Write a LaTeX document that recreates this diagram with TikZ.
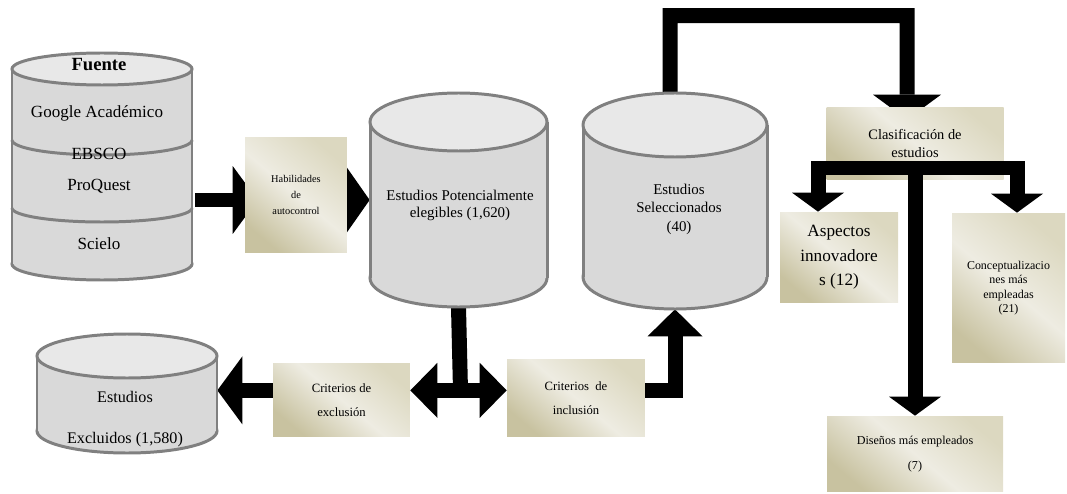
\documentclass[tikz,border=0pt]{standalone}
\usepackage{fontspec}
\setmainfont{Liberation Serif}
\usetikzlibrary{arrows.meta,backgrounds,fit,calc}

\definecolor{cylbody}{HTML}{D9D9D9}
\definecolor{cyltop}{HTML}{E8E8E8}
\definecolor{cylrim}{HTML}{808080}
\definecolor{paperdark}{HTML}{C8C2A0}
\definecolor{paperlight}{HTML}{EEECE2}
\definecolor{papermid}{HTML}{DCD8C0}

% name, x, top y, bottom y, x radius, y radius
\newcommand{\dbcyl}[6]{%
  \filldraw[cylline,fill=cylbody] (#2,#4) ellipse [x radius=#5,y radius=#6];
  \fill[cylbody] (#2-#5,#3) rectangle (#2+#5,#4);
  \draw[cylline] (#2-#5,#3) -- (#2-#5,#4) (#2+#5,#3) -- (#2+#5,#4);
  \filldraw[cylline,fill=cyltop] (#2,#3) ellipse [x radius=#5,y radius=#6];
  \node[fit={(#2-#5,#3-#6) (#2+#5,#4+#6)},inner sep=0pt] (#1) {};
}

\tikzset{
  bigtip/.tip={Triangle[length=0.54cm,width=1.54cm,line width=0pt]},
  midtip/.tip={Triangle[length=0.5cm,width=1.36cm,line width=0pt]},
  dbltip/.tip={Triangle[length=0.54cm,width=1.1cm,line width=0pt]},
  smalltip/.tip={Triangle[length=0.38cm,width=1.04cm,line width=0pt]}
}

\begin{document}
\begin{tikzpicture}[x=0.02cm,y=-0.02cm,
  cylline/.style={draw=cylrim,line width=1.7pt},
  paper/.style={top color=papermid,bottom color=paperdark,middle color=paperlight,
    shading angle=-40,inner sep=1pt,align=center},
  bar/.style={draw=black,line width=0.3cm}]
\useasboundingbox (0,0) rectangle (1067,493);

%FUENTE
\dbcyl{src}{102}{69}{264}{90}{16}
\draw[cylline] (192,140) arc[start angle=0,end angle=180,x radius=90,y radius=15];
\draw[cylline] (192,208) arc[start angle=0,end angle=180,x radius=90,y radius=14];
\node[font=\fontsize{10.6}{12}\selectfont\bfseries] (fuente) at (99,65) {Fuente};
\node[font=\fontsize{9.7}{11}\selectfont] (google) at (97,113) {Google Académico};
\node[font=\fontsize{9.7}{11}\selectfont] (ebsco) at (99,154) {EBSCO};
\node[font=\fontsize{9.7}{11}\selectfont] (proquest) at (99,186) {ProQuest};
\node[font=\fontsize{9.7}{11}\selectfont] (scielo) at (99,244) {Scielo};

%ESTUDIOS
\dbcyl{pot}{458.5}{122}{278}{88.5}{29}
\node[font=\fontsize{8.5}{9.6}\selectfont,align=center] (pottext) at (460,205)
  {Estudios Potencialmente\\elegibles (1,620)};
\dbcyl{sel}{675}{125}{277}{92}{32}
\node[font=\fontsize{8.5}{10.5}\selectfont,align=center] (seltext) at (679,209)
  {Estudios\\Seleccionados\\(40)};
\dbcyl{exc}{127}{356}{431}{90}{22}
\node[font=\fontsize{9.2}{23.5}\selectfont,align=center] (exctext) at (125,419)
  {Estudios\\Excluidos (1,580)};

%CAJAS
\node[paper,minimum width=2.04cm,minimum height=2.32cm,font=\fontsize{5.9}{9}\selectfont]
  (hab) at (296,195) {Habilidades\\de\\autocontrol};
\node[paper,minimum width=2.74cm,minimum height=1.48cm,font=\fontsize{7.2}{14}\selectfont]
  (exclu) at (341.5,400) {Criterios de\\exclusión};
\node[paper,minimum width=2.76cm,minimum height=1.56cm,font=\fontsize{7.2}{14}\selectfont]
  (inclu) at (576,398) {Criterios~ de\\inclusión};
\node[paper,minimum width=3.54cm,minimum height=1.46cm,font=\fontsize{8.2}{10.8}\selectfont]
  (clas) at (915,143.5) {Clasificación de\\estudios};
\node[paper,minimum width=2.36cm,minimum height=1.82cm,font=\fontsize{9.8}{13.9}\selectfont]
  (asp) at (839,257.5) {Aspectos\\innovadore\\s (12)};
\node[paper,minimum width=2.26cm,minimum height=3cm,font=\fontsize{6.8}{8.3}\selectfont]
  (conc) at (1008.5,288) {Conceptualizacio\\nes más\\empleadas\\(21)};
\node[paper,minimum width=3.52cm,minimum height=1.52cm,font=\fontsize{6.9}{14.7}\selectfont]
  (dis) at (915,454) {Diseños más empleados\\(7)};

%FLECHAS
\coordinate (fork) at ($(pot.south)+(2,83)$);
\begin{scope}[on background layer]
  \draw[bar,-{midtip}] ($(src.east |- pot.west)+(3,0)$) -- ($(hab.west |- pot.west)+(13,0)$);
  \draw[bar,-{bigtip}] (hab.east |- pot.west) -- (pot.west);
  \draw[bar] (pot.south) -- (fork);
  \draw[bar,{dbltip}-{dbltip}] (exclu.east |- fork) -- (inclu.west |- fork);
  \draw[bar,-{midtip}] (exclu.west |- fork) -- (exc.east |- fork);
  \draw[bar,-{dbltip}] (inclu.east |- fork) -| (sel.south);
  \draw[bar,-{midtip}] ([xshift=-0.1cm]sel.north) |- ++(237,-77) -- ($(clas.north)+(-8,13)$);
\end{scope}

\coordinate (tl) at (818,168);
\coordinate (tr) at (1017,168);
\draw[bar,{smalltip}-{smalltip}] (tl |- asp.north) -- (tl) -- (tr) -- (tr |- conc.north);
\draw[bar,-{smalltip}] (clas.south |- tl) -- (dis.north);

\end{tikzpicture}
\end{document}
